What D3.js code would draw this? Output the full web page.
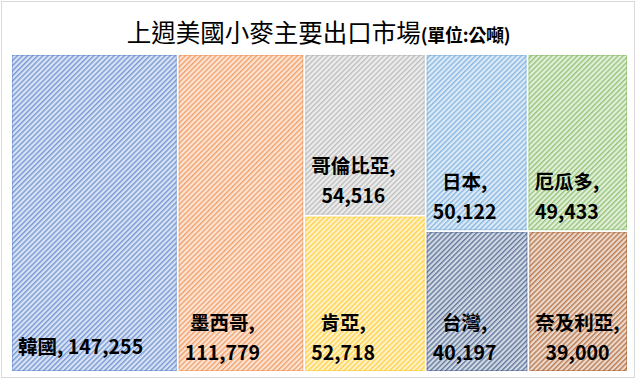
<!DOCTYPE html>
<html>
<head>
<meta charset="utf-8">
<script src="https://cdn.jsdelivr.net/npm/d3@7"></script>
<style>
  html, body { margin: 0; padding: 0; background: #fff; }
  svg { display: block; }
</style>
</head>
<body>
<svg id="chart" width="640" height="384"></svg>
<script>
// ---- data ----
const categories = ["韓國", "墨西哥", "哥倫比亞", "肯亞", "日本", "厄瓜多", "台灣", "奈及利亞"];
const values = [147255, 111779, 54516, 52718, 50122, 49433, 40197, 39000];
const colors = ["#4472C4", "#ED7D31", "#A5A5A5", "#FFC000", "#5B9BD5", "#70AD47", "#264478", "#9E480E"];
// grouping of the tiles (indices into categories), as Excel laid them out
const grouping = [0, 1, [2, 3], [[4, 5], [6, 7]]];
const titleMain = "上週美國小麥主要出口市場";
const titleUnit = "(單位:公噸)";

// ---- layout ----
const plot = { x: 12, y: 55, w: 615, h: 316 };
const svg = d3.select("#chart");
const defs = svg.append("defs");
const fmt = d3.format(",");

// chart border
svg.append("rect")
  .attr("x", 1.5).attr("y", 1.5).attr("width", 633).attr("height", 376)
  .attr("fill", "#fff").attr("stroke", "#d9d9d9").attr("stroke-width", 1);

// title
const title = svg.append("text")
  .attr("x", 318.5).attr("y", 42)
  .attr("text-anchor", "middle")
  .attr("font-family", "'Noto Sans CJK TC', sans-serif")
  .attr("fill", "#000");
title.append("tspan").attr("font-size", 24.5).attr("font-weight", 400).text(titleMain);
title.append("tspan").attr("font-size", 18).attr("font-weight", 700).attr("letter-spacing", -0.3).text(titleUnit);

// hierarchy
function build(g) {
  if (typeof g === "number") return { name: categories[g], value: values[g], color: colors[g], idx: g };
  return { children: g.map(build) };
}
const root = d3.hierarchy(build(grouping)).sum(d => d.value || 0);
d3.treemap()
  .tile(d3.treemapSliceDice)
  .size([plot.w, plot.h])
  .paddingInner(2)
  .round(false)(root);

// patterns
colors.forEach((c, i) => {
  const bg = d3.interpolateRgb(c, "#ffffff")(0.8);
  const fg = d3.interpolateRgb(c, "#ffffff")(0.28);
  const p = defs.append("pattern")
    .attr("id", "pat" + i)
    .attr("patternUnits", "userSpaceOnUse")
    .attr("width", 3.6).attr("height", 3.6)
    .attr("patternTransform", "rotate(45)");
  p.append("rect").attr("width", 3.6).attr("height", 3.6).attr("fill", bg);
  p.append("rect").attr("x", 0).attr("width", 1.4).attr("height", 3.6).attr("fill", fg);
});

const g = svg.append("g").attr("transform", `translate(${plot.x},${plot.y})`);
const leaves = root.leaves();

const cell = g.selectAll("g.cell").data(leaves).join("g").attr("class", "cell");
cell.append("rect")
  .attr("x", d => d.x0).attr("y", d => d.y0)
  .attr("width", d => d.x1 - d.x0).attr("height", d => d.y1 - d.y0)
  .attr("fill", d => `url(#pat${d.data.idx})`);
cell.append("rect")
  .attr("x", d => d.x0 + 0.5).attr("y", d => d.y0 + 0.5)
  .attr("width", d => d.x1 - d.x0 - 1).attr("height", d => d.y1 - d.y0 - 1)
  .attr("fill", "none")
  .attr("stroke", d => d.data.color).attr("stroke-opacity", 0.4).attr("stroke-width", 1);

// labels
const fs = 19.5;
cell.each(function(d) {
  const sel = d3.select(this);
  const t = sel.append("text")
    .attr("font-family", "'Noto Sans CJK TC', sans-serif")
    .attr("font-weight", 700).attr("font-size", fs).attr("fill", "#000");
  const full = d.data.name + ", " + fmt(d.data.value);
  const probe = t.append("tspan").text(full);
  const fullW = probe.node().getComputedTextLength();
  const avail = (d.x1 - d.x0) - 14;
  probe.remove();
  let lines;
  if (fullW <= avail) lines = [full];
  else lines = [d.data.name + ",", fmt(d.data.value)];
  const spans = lines.map(l => t.append("tspan").text(l));
  const widths = spans.map(s => s.node().getComputedTextLength());
  const bw = d3.max(widths);
  const left = d.x0 + 6;
  const cx = left + bw / 2;
  const centers = lines.length === 1 ? [d.y1 - 24] : [d.y1 - 48.5, d.y1 - 18.5];
  spans.forEach((s, i) => {
    s.attr("x", cx).attr("y", centers[i]).attr("dy", "0.36em").attr("text-anchor", "middle");
  });
});
</script>
</body>
</html>
